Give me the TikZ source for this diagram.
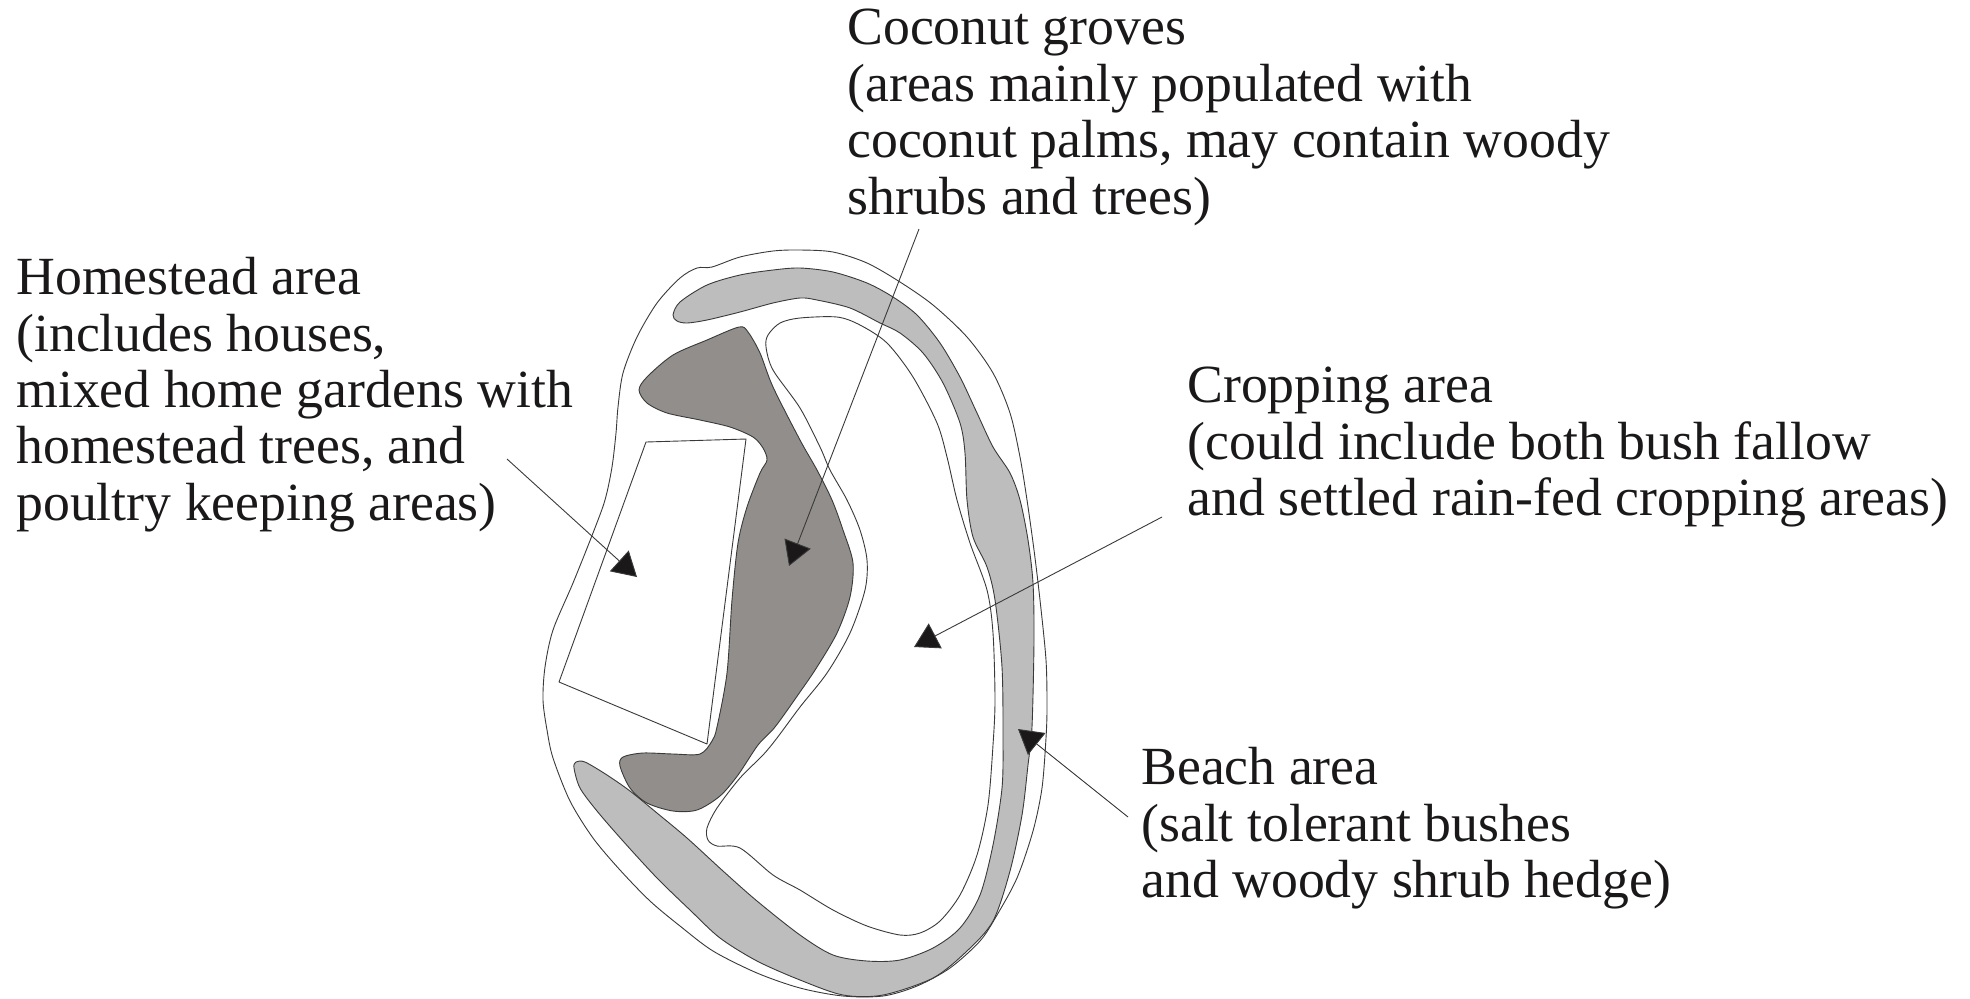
\documentclass[tikz,border=0pt]{standalone}
\usepackage{fontspec}
\setmainfont{Liberation Serif}
\usetikzlibrary{arrows.meta}
\definecolor{beachgray}{HTML}{BDBDBD}
\definecolor{darkgray}{HTML}{918E8B}
\definecolor{inkline}{HTML}{3A3A3A}
\definecolor{inkfill}{HTML}{1A1818}
\tikzset{
  outline/.style={draw=inkline,line width=0.45pt,line join=round},
  label/.style={anchor=north west,inner sep=0pt,align=left,text=inkfill,font=\fontsize{26.86}{28.2}\selectfont},
  pointer/.style={draw=inkline,line width=0.45pt,-{Triangle[length=12pt,width=14pt,fill=inkfill]}},
}
\begin{document}
\begin{tikzpicture}[x=0.5pt,y=-0.5pt]
\useasboundingbox (0,0) rectangle (1970,998);
% outer island
\draw[outline,fill=white] plot[smooth cycle,tension=0.5] coordinates {
(712,267)(740,257)(773,251)(800,250)(833,252)(867,263)(900,282)(933,305)(967,337)(993,373)
(1010,413)(1020,457)(1027,500)(1034,550)(1040,600)(1046,660)(1047,707)(1046,738)(1042,788)(1033,831)
(1017,878)(997,915)(980,941)(950,968)(917,986)(883,996)(843,996)(800,988)(757,973)(713,951)
(680,926)(650,901)(620,870)(593,838)(570,801)(553,758)(547,730)(543,700)(545,667)(553,630)
(573,583)(593,533)(605,500)(612,467)(616,433)(618,407)(623,373)(637,337)(657,303)(680,278)(697,268)};
% homestead
\draw[outline,fill=white] (646,442) -- (746,439) -- (707,744) -- (559,682) -- cycle;
% beach band
\draw[outline,fill=beachgray] plot[smooth cycle,tension=0.5] coordinates {
(673,315)(680,302)(707,285)(740,275)(773,270)(800,268)(833,272)(867,283)(893,297)(917,315)
(940,343)(960,377)(977,413)(993,447)(1010,473)(1020,500)(1028,540)(1033,583)(1034,640)(1032,727)
(1028,765)(1022,815)(1010,871)(993,921)(967,951)(933,978)(883,995)(843,995)(800,980)(757,961)
(720,938)(690,910)(657,878)(623,841)(597,811)(580,788)(574,768)(576,762)(585,762)(607,775)
(630,791)(657,813)(687,838)(723,871)(757,901)(800,935)(833,955)(867,961)(900,960)(933,948)
(960,928)(980,895)(993,845)(1002,788)(1003,738)(1002,667)(995,600)(987,567)(973,537)(967,500)
(965,453)(960,423)(943,383)(923,353)(900,333)(880,323)(850,308)(817,300)(800,298)(773,303)
(740,312)(707,320)(687,323)(677,321)};
% cropping area
\draw[outline,fill=white] plot[smooth cycle,tension=0.5] coordinates {
(766,347)(768,335)(780,323)(800,318)(837,317)(860,325)(887,343)(913,377)(937,423)(947,457)
(957,500)(970,543)(987,590)(993,633)(995,700)(993,745)(988,805)(977,855)(960,895)(940,921)
(920,933)(900,935)(867,926)(833,910)(800,890)(773,875)(740,848)(717,846)(708,840)(707,828)
(717,808)(740,778)(763,755)(777,738)(800,707)(827,673)(850,633)(865,590)(867,560)(860,530)
(847,500)(830,470)(820,447)(800,408)(773,370)};
% coconut groves
\draw[outline,fill=darkgray] plot[smooth cycle,tension=0.5] coordinates {
(739,327)(748,332)(760,353)(773,387)(800,440)(817,470)(832,500)(843,530)(853,563)(850,597)
(837,633)(817,667)(800,692)(775,727)(758,745)(738,775)(720,796)(697,810)(673,811)(647,803)
(630,788)(620,766)(623,757)(643,753)(673,754)(700,754)(712,741)(717,727)(727,673)(732,600)
(738,543)(747,507)(760,473)(767,460)(763,448)(753,437)(730,427)(700,420)(667,413)(647,403)
(639,390)(647,377)(673,355)(707,340)};
% labels
\node[label] (coconut) at (847,9) {Coconut groves\\(areas mainly populated with\\coconut palms, may contain woody\\shrubs and trees)};
\node[label] (homestead) at (16,257) {Homestead area\\(includes houses,\\mixed home gardens with\\homestead trees, and\\poultry keeping areas)};
\node[label] (cropping) at (1187,367) {Cropping area\\(could include both bush fallow\\and settled rain-fed cropping areas)};
\node[label] (beach) at (1141,747) {Beach area\\(salt tolerant bushes\\and woody shrub hedge)};
% connectors
\coordinate (coconutfrom) at (919,229);
\coordinate (coconutto) at (789,566);
\coordinate (homesteadfrom) at (507,459);
\coordinate (homesteadto) at (637,577);
\coordinate (croppingfrom) at (1162,517);
\coordinate (croppingto) at (914,647);
\coordinate (beachfrom) at (1128,817);
\coordinate (beachto) at (1018,729);
\draw[pointer] (coconutfrom) -- (coconutto);
\draw[pointer] (homesteadfrom) -- (homesteadto);
\draw[pointer] (croppingfrom) -- (croppingto);
\draw[pointer] (beachfrom) -- (beachto);
\end{tikzpicture}
\end{document}
